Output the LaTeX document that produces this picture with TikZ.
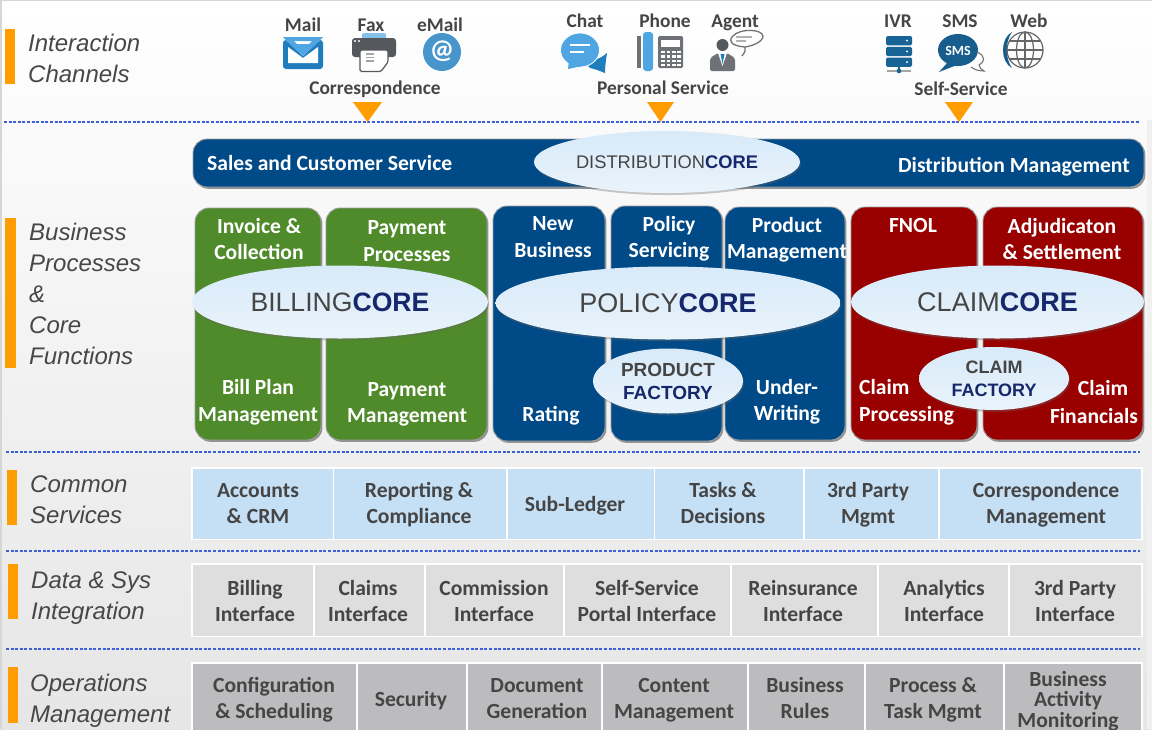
\documentclass[tikz,border=0pt]{standalone}
\usepackage{fontspec}
\setmainfont{Carlito}
\newfontfamily\arialf{Liberation Sans}
\usetikzlibrary{shapes.geometric,shadows}
\definecolor{cgreen}{HTML}{4F8A2B}
\definecolor{cblue}{HTML}{004A87}
\definecolor{cred}{HTML}{990000}
\definecolor{corange}{HTML}{FF9C00}
\definecolor{cdash}{HTML}{3F5FD8}
\definecolor{ctext}{HTML}{454545}
\definecolor{cnavy}{HTML}{16276B}
\definecolor{cellblue}{HTML}{C5DFF4}
\definecolor{cellgrey}{HTML}{DEDEDE}
\definecolor{celldark}{HTML}{BCBCBE}
\definecolor{icondark}{HTML}{55585C}
\definecolor{iconblue}{HTML}{1F7DBD}
\definecolor{iconlight}{HTML}{4FA6E2}
\definecolor{ellT}{HTML}{D8EAF9}
\definecolor{ellB}{HTML}{E9F3FB}
% name, x1, x2, y1, y2, fill, text x, text
\newcommand{\cellbox}[8]{%
  \pgfmathsetmacro{\cw}{#3-#2}\pgfmathsetmacro{\ch}{#5-#4}%
  \node[cellst,fill=#6,minimum width=\cw pt,minimum height=\ch pt] (#1) at ({(#2+#3)/2},{(#4+#5)/2}) {};
  \node[celltxt] (#1t) at (#7,\rowy) {#8};}
\newcommand{\bigbox}[6]{%
  \pgfmathsetmacro{\cw}{#3-#2}\pgfmathsetmacro{\ch}{#5-#4}%
  \node[bigst,fill=#6,minimum width=\cw pt,minimum height=\ch pt] (#1) at ({(#2+#3)/2},{(#4+#5)/2}) {};}
\tikzset{
  linefix/.style={yshift=-2pt,execute at begin node={\rule{0pt}{16pt}},execute at end node={\rule[-6pt]{0pt}{6pt}}},
  cellst/.style={draw=white,line width=1.6pt,inner sep=0pt},
  celltxt/.style={inner sep=0pt,align=center,text=ctext,linefix,
     font=\bfseries\fontsize{21.6}{26}\selectfont},
  celltight/.style={inner sep=0pt,align=center,text=ctext,
     font=\bfseries\fontsize{21.6}{20.5}\selectfont},
  bigst/.style={rounded corners=14pt,draw=black!38,line width=.9pt,inner sep=0pt,
     drop shadow={shadow xshift=1.4pt,shadow yshift=-1.8pt,fill=black!55,opacity=.75}},
  ell/.style={ellipse,inner sep=0pt,top color=ellT,bottom color=ellB,
     drop shadow={shadow xshift=1pt,shadow yshift=-2pt,fill=black!60,opacity=.35}},
  boxtxt/.style={text=white,align=center,inner sep=0pt,linefix,font=\bfseries\fontsize{21.6}{26.5}\selectfont},
  chan/.style={text=ctext,inner sep=0pt,yshift=-1.7pt,text height=13pt,text depth=4pt,font=\bfseries\fontsize{19.4}{20}\selectfont},
  side/.style={anchor=west,inner sep=0pt,align=left,text=black!72,font=\arialf\itshape\fontsize{24}{31}\selectfont},
  orbar/.style={fill=corange},
  rule/.style={draw=cdash,line width=1.7pt,dash pattern=on 3pt off 1.6pt},
  tri/.style={fill=corange},
}
\begin{document}
\begin{tikzpicture}[x=1pt,y=-1pt]
\useasboundingbox (0,0) rectangle (1152,729);
\clip (0,0) rectangle (1152,729);
% background
\shade[top color=white,middle color=white!98!black,bottom color=white!90!black] (0,0) rectangle (1152,729);
\fill[black!16] (0,0) rectangle (1152,1.2);
\fill[black!16] (0,0) rectangle (1.8,729);
\fill[black!6] (1147,120) rectangle (1152,729);
% orange bars
\fill[orbar] (5.3,29) rectangle (15,84);
\fill[orbar] (5.3,218) rectangle (15.7,368);
\fill[orbar] (7,470) rectangle (16.5,525);
\fill[orbar] (8,564) rectangle (17.5,619);
\fill[orbar] (8,667) rectangle (17.5,723);
% side labels
\node[side] (lbl1) at (28,58.5) {Interaction\\Channels};
\node[side] (lbl2) at (29,294) {Business\\Processes\\\&\\Core\\Functions};
\node[side] (lbl3) at (30,499.5) {Common\\Services};
\node[side] (lbl4) at (31,598) {Data \& Sys\\Integration};
\node[side] (lbl5) at (30,700.5) {Operations\\Management};
% dashed rules
\draw[rule] (4,122) -- (1140,122);
\draw[rule] (6,452) -- (1140,452);
\draw[rule] (6,551) -- (1140,551);
\draw[rule] (6,649) -- (1140,649);
% triangles
\fill[tri] (353,102) -- (382,102) -- (367.5,122) -- cycle;
\fill[tri] (647,102) -- (674,102) -- (660.5,122) -- cycle;
\fill[tri] (945,102) -- (973,102) -- (959,122) -- cycle;
% channel labels
\node[chan] (tMail) at (303,25) {Mail};
\node[chan] (tFax) at (371,25) {Fax};
\node[chan] (tEmail) at (440,25) {eMail};
\node[chan] (tChat) at (585,21) {Chat};
\node[chan] (tPhone) at (665,21) {Phone};
\node[chan] (tAgent) at (735,21) {Agent};
\node[chan] (tIvr) at (898,21.5) {IVR};
\node[chan] (tSms) at (960,21.5) {SMS};
\node[chan] (tWeb) at (1029,21.5) {Web};
\node[chan] (gCorr) at (375,88) {Correspondence};
\node[chan] (gPers) at (663,88.5) {Personal Service};
\node[chan] (gSelf) at (961,89.5) {Self-Service};
% --- icons ---
% mail
\fill[iconblue,rounded corners=3pt] (283,40) rectangle (323,69);
\fill[white] (288,47) -- (303,58) -- (318,47) -- (318,63) -- (288,63) -- cycle;
\fill[white] (283,37) -- (323,37) -- (303,56) -- cycle;
\fill[iconlight] (283,37) -- (323,37) -- (319,41) -- (287,41) -- cycle;
\fill[iconlight] (294,44) -- (312,44) -- (303,52) -- cycle;
\fill[iconlight] (287,41) -- (294,41) -- (303,50) -- (312,41) -- (319,41) -- (303,56) -- cycle;
% fax
\fill[iconlight!70,rounded corners=2pt] (362,33) rectangle (386,42);
\fill[icondark,rounded corners=3pt] (352,38) rectangle (396,57);
\fill[white] (355,41) circle (1.2);
\fill[white] (359,41) circle (1.2);
\filldraw[draw=icondark,line width=1.2pt,fill=white,rounded corners=1.5pt] (360,50) -- (388,50) -- (388,62) -- (381,71.5) -- (360,71.5) -- cycle;
\draw[black!35,line width=1.3pt] (366,54) -- (374,54) (366,57.5) -- (374,57.5) (366,61) -- (374,61);
% eMail
\fill[iconlight!90!black] (442,52) circle (19);
\node[text=white,inner sep=0pt,font=\bfseries\fontsize{27}{27}\selectfont] (atSign) at (442,51) {@};
% chat
\fill[iconblue] (585,63) .. controls (596,60) and (603,57) .. (607,53) .. controls (606,60) and (605,66) .. (605,73) .. controls (600,71) and (595,69) .. (590,68) -- cycle;
\filldraw[draw=white,line width=.8pt,fill=iconlight] (580,50) ellipse (19.5 and 17);
\fill[iconlight] (569,60) -- (582,66) -- (568,69) -- cycle;
\draw[white,line width=1.6pt] (570,45) -- (590,45) (570,52) -- (584,52);
% phone
\fill[icondark!85] (637,36) rectangle (640.5,68);
\fill[iconlight,rounded corners=3pt] (643,32) rectangle (653,71);
\fill[icondark!85,rounded corners=1.5pt] (658,36) rectangle (683,68);
\fill[white] (661,40) rectangle (680,47);
\foreach \kx in {663,668.5,674,679}{\foreach \ky in {52,56.5,61,65}{\fill[white] (\kx-1.6,\ky-1.3) rectangle (\kx+1.6,\ky+1.3);}}
% agent
\fill[icondark] (722.5,45) circle (6);
\fill[icondark!85,rounded corners=2pt] (710,71) -- (710,58) -- (718,53) -- (727,53) -- (735,58) -- (735,71) -- cycle;
\fill[white] (718,53) -- (727,53) -- (722.5,66) -- cycle;
\fill[iconblue] (720.5,54) -- (724.5,54) -- (723.5,59) -- (722.5,64) -- (721.5,59) -- cycle;
\draw[black!55,line width=1.3pt] (742,56) .. controls (745,52) and (746,50) .. (745,47) .. controls (733,46) and (727,42) .. (733,36) .. controls (740,28) and (762,29) .. (763,36) .. controls (763,42) and (752,46) .. (745,47);
\draw[black!30,line width=1.4pt] (736,37) -- (752,37) (736,41) -- (746,41);
% IVR
\foreach \iy in {36,46.8,57.5}{\fill[iconblue!80!black,rounded corners=1.5pt] (886,\iy) rectangle (912,\iy+9.3); \fill[white] (907,\iy+4.6) circle (1.1);}
\draw[iconblue!80!black,line width=1.4pt] (899,66) -- (899,71);
\draw[black!35,line width=1.4pt] (887,71) -- (911,71);
\fill[iconblue!80!black] (899,71) circle (2.3);
% SMS
\fill[iconblue!75!black] (958,50) ellipse (20 and 16);
\fill[iconblue!75!black] (948,62) -- (957,65) -- (939,72) -- cycle;
\node[text=white,inner sep=0pt,font=\bfseries\fontsize{14}{14}\selectfont] (smsIn) at (958,50.5) {SMS};
\draw[black!55,line width=1.1pt] (977,52) .. controls (986,56) and (985,62) .. (979,65) .. controls (979,68) and (982,70) .. (984,71) .. controls (979,71) and (975,70) .. (971,67);
% web
\fill[iconblue!75!black] (1012,32) .. controls (1000,38) and (1000,62) .. (1012,68) .. controls (1005,58) and (1005,42) .. (1012,32) -- cycle;
\draw[black!60,line width=1.2pt] (1025,50) circle (18);
\draw[black!60,line width=1.2pt] (1025,50) ellipse (8.5 and 18);
\draw[black!60,line width=1.2pt] (1025,32) -- (1025,68) (1007,50) -- (1043,50) (1010,41) -- (1040,41) (1010,59) -- (1040,59);
% --- big boxes ---
\bigbox{distBar}{193}{1144}{139}{187}{cblue}
\bigbox{gA}{195}{321}{208}{440}{cgreen}
\bigbox{gB}{326}{487}{208}{440}{cgreen}
\bigbox{bA}{493}{605}{206}{441}{cblue}
\bigbox{bB}{611}{722}{206}{441}{cblue}
\bigbox{bC}{725}{845}{207}{440}{cblue}
\bigbox{rA}{851}{977}{207}{440}{cred}
\bigbox{rB}{983}{1143}{207}{440}{cred}
% texts on bars
\node[boxtxt,anchor=west] (salesT) at (207,163.5) {Sales and Customer Service};
\node[boxtxt,anchor=east] (distT) at (1130,165.5) {Distribution Management};
\node[boxtxt] (t1) at (259,240) {Invoice \&\\Collection};
\node[boxtxt] (t2) at (407,242) {Payment\\Processes};
\node[boxtxt] (t3) at (553,238) {New\\Business};
\node[boxtxt] (t4) at (669,238) {Policy\\Servicing};
\node[boxtxt] (t5) at (787,239) {Product\\Management};
\node[boxtxt] (t6) at (913,225.5) {FNOL};
\node[boxtxt] (t7) at (1062,240) {Adjudicaton\\\& Settlement};
\node[boxtxt] (t8) at (258,401.5) {Bill Plan\\Management};
\node[boxtxt] (t9) at (407,403.5) {Payment\\Management};
\node[boxtxt] (t10) at (551,414) {Rating};
\node[boxtxt] (t11) at (787,401) {Under-\\Writing};
\node[boxtxt,anchor=west,align=left] (t12) at (859,401.5) {Claim\\Processing};
\node[boxtxt] (t13) at (1103,388) {Claim};
\node[boxtxt] (t14) at (1094,416) {Financials};
% ellipses
\node[ell,minimum width=266pt,minimum height=62pt,font=\arialf\fontsize{18.3}{18.3}\selectfont] (eDist) at (667,162) {\textcolor{ctext}{DISTRIBUTION}\textcolor{cnavy}{\bfseries CORE}};
\node[ell,minimum width=296pt,minimum height=73pt,font=\arialf\fontsize{26.6}{27}\selectfont] (eBill) at (340,302) {\textcolor{ctext}{BILLING}\textcolor{cnavy}{\bfseries CORE}};
\node[ell,minimum width=345pt,minimum height=73pt,font=\arialf\fontsize{27}{27}\selectfont] (ePol) at (668,303) {\textcolor{ctext}{POLICY}\textcolor{cnavy}{\bfseries CORE}};
\node[ell,minimum width=293pt,minimum height=73pt,font=\arialf\fontsize{27}{27}\selectfont] (eClaim) at (997.5,302) {\textcolor{ctext}{CLAIM}\textcolor{cnavy}{\bfseries CORE}};
\node[ell,minimum width=150pt,minimum height=65pt,align=center,font=\arialf\bfseries\fontsize{19}{23}\selectfont] (eProd) at (668,381) {\textcolor{ctext}{PRODUCT}\\\textcolor{cnavy}{FACTORY}};
\node[ell,minimum width=150pt,minimum height=63pt,align=center,font=\arialf\bfseries\fontsize{18}{23}\selectfont] (eCf) at (994,378.5) {\textcolor{ctext}{CLAIM}\\\textcolor{cnavy}{FACTORY}};
% rows
\def\rowy{504}
\cellbox{c1}{192}{333.5}{468}{539.5}{cellblue}{258}{Accounts\\\& CRM}
\cellbox{c2}{333.5}{507}{468}{539.5}{cellblue}{419}{Reporting \&\\Compliance}
\cellbox{c3}{507}{654.5}{468}{539.5}{cellblue}{575}{Sub-Ledger}
\cellbox{c4}{654.5}{804}{468}{539.5}{cellblue}{723}{Tasks \&\\Decisions}
\cellbox{c5}{804}{939}{468}{539.5}{cellblue}{868}{3rd Party\\Mgmt}
\cellbox{c6}{939}{1142}{468}{539.5}{cellblue}{1046}{Correspondence\\Management}
\def\rowy{602}
\cellbox{d1}{192}{314}{564}{636.5}{cellgrey}{255}{Billing\\Interface}
\cellbox{d2}{314}{425}{564}{636.5}{cellgrey}{368}{Claims\\Interface}
\cellbox{d3}{425}{564}{564}{636.5}{cellgrey}{494}{Commission\\Interface}
\cellbox{d4}{564}{731}{564}{636.5}{cellgrey}{647}{Self-Service\\Portal Interface}
\cellbox{d5}{731}{878}{564}{636.5}{cellgrey}{803}{Reinsurance\\Interface}
\cellbox{d6}{878}{1009}{564}{636.5}{cellgrey}{944}{Analytics\\Interface}
\cellbox{d7}{1009}{1142}{564}{636.5}{cellgrey}{1075}{3rd Party\\Interface}
\def\rowy{699}
\cellbox{o1}{192}{357}{663}{733}{celldark}{274}{Configuration\\\& Scheduling}
\cellbox{o2}{357}{467}{663}{733}{celldark}{411}{Security}
\cellbox{o3}{467}{602}{663}{733}{celldark}{537}{Document\\Generation}
\cellbox{o4}{602}{748}{663}{733}{celldark}{674}{Content\\Management}
\cellbox{o5}{748}{865}{663}{733}{celldark}{805}{Business\\Rules}
\cellbox{o6}{865}{1004}{663}{733}{celldark}{933}{Process \&\\Task Mgmt}
\cellbox{o7}{1004}{1142}{663}{733}{celldark}{1068}{}
\node[celltight] (o7x) at (1068,701) {Business\\Activity\\Monitoring};
\end{tikzpicture}
\end{document}
